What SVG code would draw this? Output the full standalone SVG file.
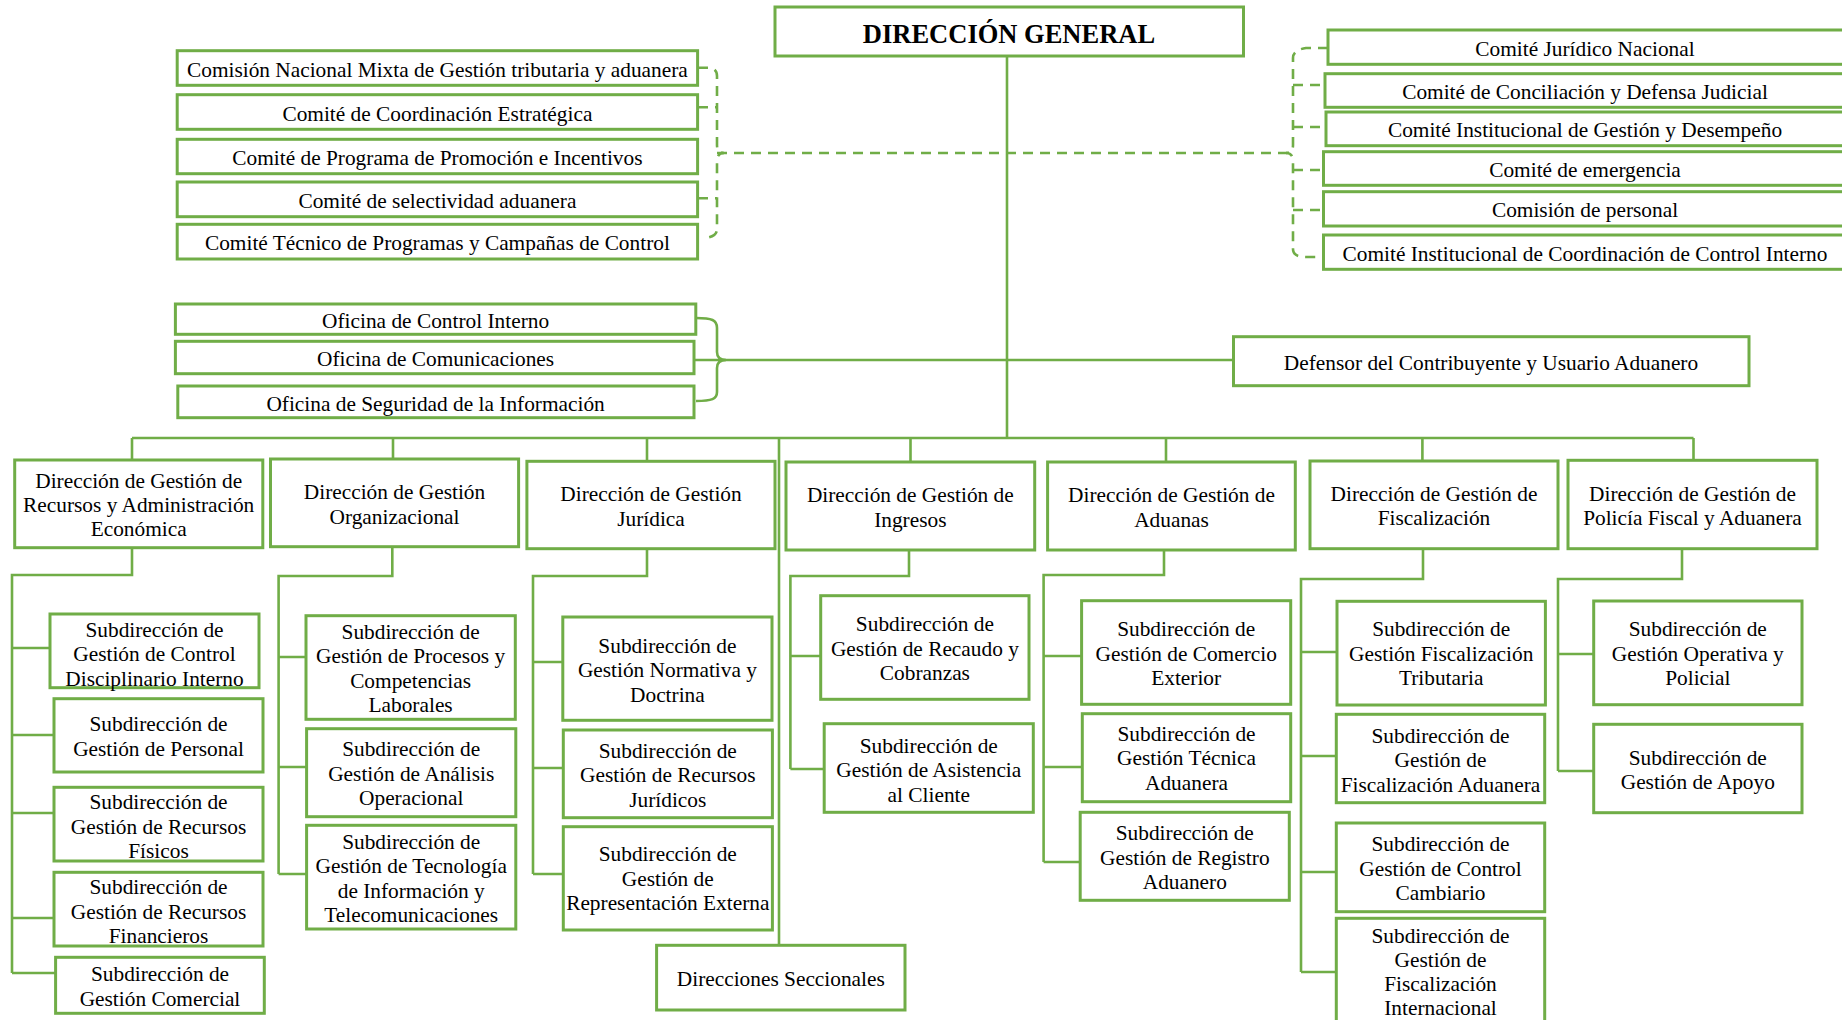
<svg xmlns="http://www.w3.org/2000/svg" width="1842" height="1020" viewBox="0 0 1842 1020">
<style>
.box{fill:#fff;stroke:#70AD47;stroke-width:3}
.ln{fill:none;stroke:#70AD47;stroke-width:2.6}
.dash{stroke-dasharray:10 7}
text{font-family:"Liberation Serif","Times New Roman",serif;font-size:21.35px;text-anchor:middle;fill:#000}
.dg{font-size:26.5px;font-weight:bold}
</style>
<rect width="1842" height="1020" fill="#fff"/>
<g id="connectors">
<path class="ln" d="M1007 56V438M132 438H1693.5M132 438V460M393 438V459M647 438V461M779 438V945M910.5 438V462M1166 438V462M1422.4 438V461M1693.5 438V460"/>
<path class="ln" d="M694 360H1233.5"/>
<path class="ln" d="M696 318C712 318 717 320 717 328V352Q717 360 726 360Q717 360 717 368V392C717 399 712 401 696 401"/>
<path class="ln dash" d="M698 67.7H708Q717 67.7 717 76V145Q717 153 724 153Q717 153 717 161V229Q717 237 704 238"/>
<path class="ln dash" d="M698 107.3H717M698 198.3H717M717 153H1287"/>
<path class="ln dash" d="M1328 48H1306Q1293 50 1293 58V145Q1293 153 1286 153Q1293 153 1293 161V249Q1293 257 1306 257H1323.5"/>
<path class="ln dash" d="M1293 85H1325M1293 127H1326M1293 170H1323.5M1293 210H1323.5"/>
<path class="ln" d="M132 548V575H12V973M12 648H50M12 735H54M12 813H54M12 918H54M12 973H55.6"/>
<path class="ln" d="M392.3 547V576H278.6V874M278.6 657H306M278.6 767H306.6M278.6 874H306.6"/>
<path class="ln" d="M647 549V576H533V874M533 662H562.8M533 768H563.3M533 874H563.3"/>
<path class="ln" d="M909 550V576H790.4V769M790.4 656H820.7M790.4 769H824.2"/>
<path class="ln" d="M1164 550V575H1043.6V862M1043.6 656H1081.6M1043.6 767H1082.3M1043.6 862H1080.2"/>
<path class="ln" d="M1423 549V579H1301V972M1301 652H1337M1301 756H1336.3M1301 872H1336.3M1301 972H1336.3"/>
<path class="ln" d="M1682 549V579H1558V771M1558 654H1593.7M1558 771H1593.7"/>
</g>
<g id="dg"><rect class="box" x="775" y="7" width="468.5" height="49"/><text class="dg" x="1009" y="43">DIRECCIÓN GENERAL</text></g>
<g id="c1"><rect class="box" x="177.2" y="50.7" width="520.4" height="34.6"/><text x="437.4" y="76.5">Comisión Nacional Mixta de Gestión tributaria y aduanera</text></g>
<g id="c2"><rect class="box" x="177.2" y="94.7" width="520.4" height="34.6"/><text x="437.4" y="120.5">Comité de Coordinación Estratégica</text></g>
<g id="c3"><rect class="box" x="177.2" y="139.3" width="520.4" height="34.4"/><text x="437.4" y="165">Comité de Programa de Promoción e Incentivos</text></g>
<g id="c4"><rect class="box" x="177.2" y="182" width="520.4" height="34.7"/><text x="437.4" y="207.8">Comité de selectividad aduanera</text></g>
<g id="c5"><rect class="box" x="177.2" y="224.3" width="520.4" height="34.7"/><text x="437.4" y="250.2">Comité Técnico de Programas y Campañas de Control</text></g>
<g id="r1"><rect class="box" x="1328" y="30" width="518" height="34.3"/><text x="1585" y="55.7">Comité Jurídico Nacional</text></g>
<g id="r2"><rect class="box" x="1325" y="73.7" width="521" height="33.6"/><text x="1585" y="99">Comité de Conciliación y Defensa Judicial</text></g>
<g id="r3"><rect class="box" x="1326" y="112" width="520" height="33.7"/><text x="1585" y="137.3">Comité Institucional de Gestión y Desempeño</text></g>
<g id="r4"><rect class="box" x="1323.5" y="151.7" width="522.5" height="33.6"/><text x="1585" y="177">Comité de emergencia</text></g>
<g id="r5"><rect class="box" x="1323.5" y="191.7" width="522.5" height="34.3"/><text x="1585" y="217.3">Comisión de personal</text></g>
<g id="r6"><rect class="box" x="1323.5" y="235" width="522.5" height="34.3"/><text x="1585" y="260.7">Comité Institucional de Coordinación de Control Interno</text></g>
<g id="o1"><rect class="box" x="175.4" y="304" width="520.4" height="30.3"/><text x="435.6" y="327.5">Oficina de Control Interno</text></g>
<g id="o2"><rect class="box" x="175.4" y="341.3" width="518.6" height="32.4"/><text x="435.6" y="366">Oficina de Comunicaciones</text></g>
<g id="o3"><rect class="box" x="177.8" y="386" width="516.2" height="31.7"/><text x="435.6" y="410.5">Oficina de Seguridad de la Información</text></g>
<g id="def"><rect class="box" x="1233.5" y="336.7" width="515.5" height="49"/><text x="1491" y="369.5">Defensor del Contribuyente y Usuario Aduanero</text></g>
<g id="d1"><rect class="box" x="14.7" y="460" width="248.1" height="87.7"/><text x="138.7" y="487.5"><tspan x="138.7">Dirección de Gestión de</tspan><tspan x="138.7" dy="24.4">Recursos y Administración</tspan><tspan x="138.7" dy="24.4">Económica</tspan></text></g>
<g id="d2"><rect class="box" x="270.5" y="459" width="248.1" height="87.7"/><text x="394.5" y="499.3"><tspan x="394.5">Dirección de Gestión</tspan><tspan x="394.5" dy="24.4">Organizacional</tspan></text></g>
<g id="d3"><rect class="box" x="526.9" y="461.3" width="248.1" height="87.4"/><text x="651" y="501.2"><tspan x="651">Dirección de Gestión</tspan><tspan x="651" dy="24.4">Jurídica</tspan></text></g>
<g id="d4"><rect class="box" x="786" y="462" width="248.7" height="88"/><text x="910.3" y="502.2"><tspan x="910.3">Dirección de Gestión de</tspan><tspan x="910.3" dy="24.4">Ingresos</tspan></text></g>
<g id="d5"><rect class="box" x="1047.6" y="462" width="247.7" height="88"/><text x="1171.5" y="502.2"><tspan x="1171.5">Dirección de Gestión de</tspan><tspan x="1171.5" dy="24.4">Aduanas</tspan></text></g>
<g id="d6"><rect class="box" x="1310" y="461" width="248" height="87.7"/><text x="1434" y="501"><tspan x="1434">Dirección de Gestión de</tspan><tspan x="1434" dy="24.4">Fiscalización</tspan></text></g>
<g id="d7"><rect class="box" x="1568" y="460.3" width="249" height="88.4"/><text x="1692.5" y="500.7"><tspan x="1692.5">Dirección de Gestión de</tspan><tspan x="1692.5" dy="24.4">Policía Fiscal y Aduanera</tspan></text></g>
<g id="s1a"><rect class="box" x="50" y="614" width="209" height="73.7"/><text x="154.5" y="637"><tspan x="154.5">Subdirección de</tspan><tspan x="154.5" dy="24.4">Gestión de Control</tspan><tspan x="154.5" dy="24.4">Disciplinario Interno</tspan></text></g>
<g id="s1b"><rect class="box" x="54" y="698.7" width="209" height="73.3"/><text x="158.5" y="731.3"><tspan x="158.5">Subdirección de</tspan><tspan x="158.5" dy="24.4">Gestión de Personal</tspan></text></g>
<g id="s1c"><rect class="box" x="54" y="787.3" width="209" height="73.7"/><text x="158.5" y="809.3"><tspan x="158.5">Subdirección de</tspan><tspan x="158.5" dy="24.4">Gestión de Recursos</tspan><tspan x="158.5" dy="24.4">Físicos</tspan></text></g>
<g id="s1d"><rect class="box" x="54" y="872.3" width="209" height="73.7"/><text x="158.5" y="894.3"><tspan x="158.5">Subdirección de</tspan><tspan x="158.5" dy="24.4">Gestión de Recursos</tspan><tspan x="158.5" dy="24.4">Financieros</tspan></text></g>
<g id="s1e"><rect class="box" x="55.6" y="957.3" width="208.7" height="56"/><text x="160" y="981.3"><tspan x="160">Subdirección de</tspan><tspan x="160" dy="24.4">Gestión Comercial</tspan></text></g>
<g id="s2a"><rect class="box" x="306" y="615.7" width="209.3" height="103.6"/><text x="410.6" y="638.7"><tspan x="410.6">Subdirección de</tspan><tspan x="410.6" dy="24.4">Gestión de Procesos y</tspan><tspan x="410.6" dy="24.4">Competencias</tspan><tspan x="410.6" dy="24.4">Laborales</tspan></text></g>
<g id="s2b"><rect class="box" x="306.6" y="728.7" width="209.2" height="88"/><text x="411.2" y="756.3"><tspan x="411.2">Subdirección de</tspan><tspan x="411.2" dy="24.4">Gestión de Análisis</tspan><tspan x="411.2" dy="24.4">Operacional</tspan></text></g>
<g id="s2c"><rect class="box" x="306.6" y="825.3" width="209.2" height="103.7"/><text x="411.2" y="848.7"><tspan x="411.2">Subdirección de</tspan><tspan x="411.2" dy="24.4">Gestión de Tecnología</tspan><tspan x="411.2" dy="24.4">de Información y</tspan><tspan x="411.2" dy="24.4">Telecomunicaciones</tspan></text></g>
<g id="s3a"><rect class="box" x="562.8" y="617" width="209.2" height="103.3"/><text x="667.4" y="652.7"><tspan x="667.4">Subdirección de</tspan><tspan x="667.4" dy="24.4">Gestión Normativa y</tspan><tspan x="667.4" dy="24.4">Doctrina</tspan></text></g>
<g id="s3b"><rect class="box" x="563.3" y="730" width="209.1" height="87.7"/><text x="667.8" y="757.7"><tspan x="667.8">Subdirección de</tspan><tspan x="667.8" dy="24.4">Gestión de Recursos</tspan><tspan x="667.8" dy="24.4">Jurídicos</tspan></text></g>
<g id="s3c"><rect class="box" x="563.3" y="826.7" width="209.1" height="103.3"/><text x="667.8" y="861.3"><tspan x="667.8">Subdirección de</tspan><tspan x="667.8" dy="24.4">Gestión de</tspan><tspan x="667.8" dy="24.4">Representación Externa</tspan></text></g>
<g id="sec"><rect class="box" x="656.6" y="945.3" width="248.4" height="64.7"/><text x="780.8" y="986">Direcciones Seccionales</text></g>
<g id="s4a"><rect class="box" x="820.7" y="595.7" width="208.3" height="103.6"/><text x="924.9" y="631.3"><tspan x="924.9">Subdirección de</tspan><tspan x="924.9" dy="24.4">Gestión de Recaudo y</tspan><tspan x="924.9" dy="24.4">Cobranzas</tspan></text></g>
<g id="s4b"><rect class="box" x="824.2" y="723.7" width="209.1" height="88.6"/><text x="928.8" y="752.7"><tspan x="928.8">Subdirección de</tspan><tspan x="928.8" dy="24.4">Gestión de Asistencia</tspan><tspan x="928.8" dy="24.4">al Cliente</tspan></text></g>
<g id="s5a"><rect class="box" x="1081.6" y="600.7" width="209.1" height="103.6"/><text x="1186.2" y="636.3"><tspan x="1186.2">Subdirección de</tspan><tspan x="1186.2" dy="24.4">Gestión de Comercio</tspan><tspan x="1186.2" dy="24.4">Exterior</tspan></text></g>
<g id="s5b"><rect class="box" x="1082.3" y="713.7" width="208.4" height="88"/><text x="1186.5" y="741"><tspan x="1186.5">Subdirección de</tspan><tspan x="1186.5" dy="24.4">Gestión Técnica</tspan><tspan x="1186.5" dy="24.4">Aduanera</tspan></text></g>
<g id="s5c"><rect class="box" x="1080.2" y="812.3" width="209.1" height="88"/><text x="1184.8" y="840.3"><tspan x="1184.8">Subdirección de</tspan><tspan x="1184.8" dy="24.4">Gestión de Registro</tspan><tspan x="1184.8" dy="24.4">Aduanero</tspan></text></g>
<g id="s6a"><rect class="box" x="1337" y="601.3" width="208.4" height="103.7"/><text x="1441.2" y="636.3"><tspan x="1441.2">Subdirección de</tspan><tspan x="1441.2" dy="24.4">Gestión Fiscalización</tspan><tspan x="1441.2" dy="24.4">Tributaria</tspan></text></g>
<g id="s6b"><rect class="box" x="1336.3" y="714.3" width="208.4" height="88.4"/><text x="1440.5" y="742.7"><tspan x="1440.5">Subdirección de</tspan><tspan x="1440.5" dy="24.4">Gestión de</tspan><tspan x="1440.5" dy="24.4">Fiscalización Aduanera</tspan></text></g>
<g id="s6c"><rect class="box" x="1336.3" y="823" width="208.4" height="88.7"/><text x="1440.5" y="851.3"><tspan x="1440.5">Subdirección de</tspan><tspan x="1440.5" dy="24.4">Gestión de Control</tspan><tspan x="1440.5" dy="24.4">Cambiario</tspan></text></g>
<g id="s6d"><rect class="box" x="1336.3" y="918.3" width="208.4" height="110"/><text x="1440.5" y="942.7"><tspan x="1440.5">Subdirección de</tspan><tspan x="1440.5" dy="24">Gestión de</tspan><tspan x="1440.5" dy="24.3">Fiscalización</tspan><tspan x="1440.5" dy="23.7">Internacional</tspan></text></g>
<g id="s7a"><rect class="box" x="1593.7" y="601" width="208.3" height="103.7"/><text x="1697.8" y="636.3"><tspan x="1697.8">Subdirección de</tspan><tspan x="1697.8" dy="24.4">Gestión Operativa y</tspan><tspan x="1697.8" dy="24.4">Policial</tspan></text></g>
<g id="s7b"><rect class="box" x="1593.7" y="724.3" width="208.3" height="88.4"/><text x="1697.8" y="764.7"><tspan x="1697.8">Subdirección de</tspan><tspan x="1697.8" dy="24.4">Gestión de Apoyo</tspan></text></g>
</svg>
